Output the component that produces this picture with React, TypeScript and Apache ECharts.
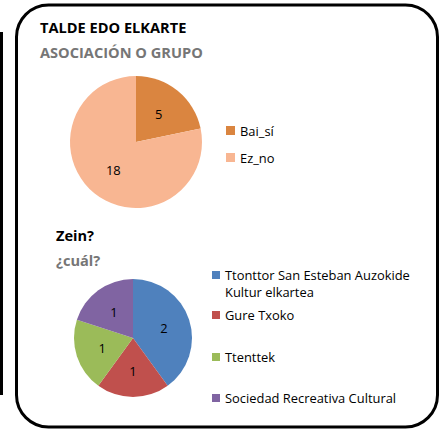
import React, { useEffect, useRef } from "react";
import * as echarts from "echarts";

const groupNames = ["Bai_sí", "Ez_no"];
const groupValues = [5, 18];
const groupColors = ["#DA8540", "#F8B692"];

const whichNames = [
  "Ttonttor San Esteban Auzokide Kultur elkartea",
  "Gure Txoko",
  "Ttenttek",
  "Sociedad Recreativa Cultural",
];
const whichValues = [2, 1, 1, 1];
const whichColors = ["#4F81BD", "#C0504D", "#9BBB59", "#8064A2"];

const FONT = "'Open Sans', Lato, sans-serif";

export default function App() {
  const ref = useRef<HTMLDivElement>(null);
  useEffect(() => {
    document.body.style.margin = "0";
    const chart = echarts.init(ref.current!, null, { renderer: "svg" });
    const titleStyle = (color: string) => ({
      fontFamily: FONT,
      fontSize: 14.6,
      fontWeight: "bold" as const,
      color,
      lineHeight: 17,
    });
    const legendText = { fontFamily: FONT, fontSize: 12.9, color: "#000", lineHeight: 17 };
    const whichTops = [266.5, 306.5, 348.5, 389.5];
    const option: any = {
      animation: false,
      textStyle: { fontFamily: FONT },
      title: [
        { text: "TALDE EDO ELKARTE", left: 40, top: 18, padding: 0, textStyle: titleStyle("#000") },
        { text: "ASOCIACIÓN O GRUPO", left: 40, top: 43, padding: 0, textStyle: titleStyle("#767676") },
        { text: "Zein?", left: 56, top: 226, padding: 0, textStyle: titleStyle("#000") },
        { text: "¿cuál?", left: 56, top: 251, padding: 0, textStyle: titleStyle("#767676") },
      ],
      legend: [
        {
          data: groupNames,
          orient: "vertical",
          left: 226,
          top: 122,
          padding: 0,
          itemWidth: 9,
          itemHeight: 9,
          itemGap: 10,
          icon: "rect",
          textStyle: legendText,
          selectedMode: false,
        },
        ...whichNames.map((n, i) => ({
          data: [n],
          orient: "vertical",
          left: 212,
          top: whichTops[i],
          padding: 0,
          itemWidth: 8,
          itemHeight: i === 0 ? 25 : 8,
          icon: i === 0 ? "path://M0,0h8v8h-8zM0,24.99h0.01v0.01h-0.01z" : "rect",
          formatter: (name: string) =>
            name === whichNames[0] ? "Ttonttor San Esteban Auzokide\nKultur elkartea" : name,
          textStyle: legendText,
          selectedMode: false,
        })),
      ],
      graphic: [
        {
          type: "rect",
          shape: { x: 16.5, y: 5, width: 421, height: 422, r: 32 },
          style: { fill: "none", stroke: "#000", lineWidth: 3 },
          silent: true,
        },
        {
          type: "line",
          shape: { x1: 1.5, y1: 32, x2: 1.5, y2: 395 },
          style: { stroke: "#000", lineWidth: 3 },
          silent: true,
        },
      ],
      series: [
        {
          type: "pie",
          center: [136, 142],
          radius: [0, 66],
          startAngle: 90,
          clockwise: true,
          data: groupNames.map((n, i) => ({ name: n, value: groupValues[i], itemStyle: { color: groupColors[i] } })),
          label: { show: true, position: "inside", formatter: "{c}", color: "#000", fontSize: 12.9, fontFamily: FONT },
          labelLine: { show: false },
          itemStyle: { borderWidth: 0 },
          emphasis: { disabled: true },
          silent: true,
        },
        {
          type: "pie",
          center: [133, 338],
          radius: [0, 59],
          startAngle: 90,
          clockwise: true,
          data: whichNames.map((n, i) => ({ name: n, value: whichValues[i], itemStyle: { color: whichColors[i] } })),
          label: { show: true, position: "inside", formatter: "{c}", color: "#000", fontSize: 12.9, fontFamily: FONT },
          labelLine: { show: false },
          itemStyle: { borderWidth: 0 },
          emphasis: { disabled: true },
          silent: true,
        },
      ],
    };
    chart.setOption(option);
    return () => chart.dispose();
  }, []);
  return <div ref={ref} style={{ width: 441, height: 430 }} />;
}
